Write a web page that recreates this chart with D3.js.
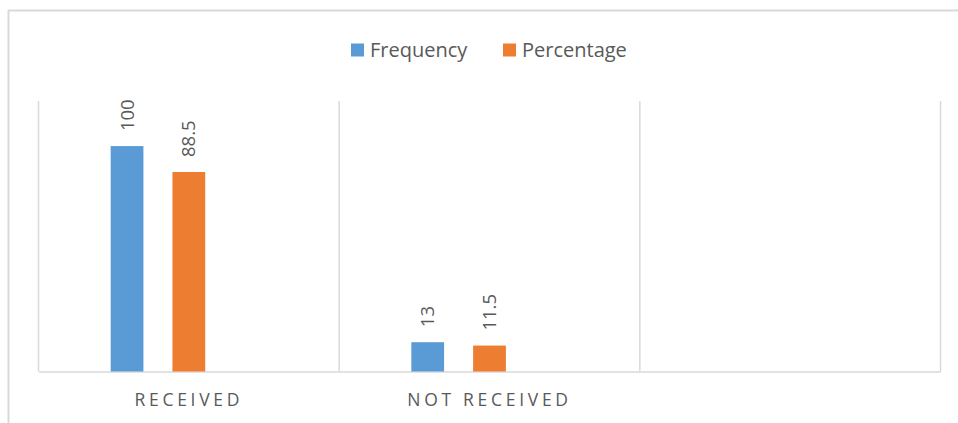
<!DOCTYPE html>
<html>
<head>
<meta charset="utf-8">
<script src="https://cdn.jsdelivr.net/npm/d3@7"></script>
<style>
  body { margin: 0; background: #fff; }
  text { font-family: "Open Sans", sans-serif; fill: #595959; }
</style>
</head>
<body>
<div id="mainDiv"></div>
<script>
var categories = ["RECEIVED", "NOT RECEIVED", ""];
var seriesNames = ["Frequency", "Percentage"];
var frequency = [100, 13, null];
var percentage = [88.5, 11.5, null];
// Excel kept a third (empty) series slot in each cluster
var slots = ["Frequency", "Percentage", "empty"];
var colors = { Frequency: "#5b9bd5", Percentage: "#ed7d31" };

var width = 958, height = 423;
var grid = "#d9d9d9";

var svg = d3.select("#mainDiv").append("svg")
    .attr("width", width).attr("height", height);

// chart frame (cropped: only top and left edges show)
svg.append("line").attr("x1", 8).attr("x2", width).attr("y1", 10.5).attr("y2", 10.5)
    .attr("stroke", grid).attr("stroke-width", 2);
svg.append("line").attr("x1", 8.5).attr("x2", 8.5).attr("y1", 10).attr("y2", height)
    .attr("stroke", grid).attr("stroke-width", 2);

var x0 = d3.scaleBand().domain(categories).range([38.5, 940.5]);
var x1 = d3.scaleBand().domain(slots)
    .range([x0.bandwidth() * 0.24, x0.bandwidth() * 0.76])
    .paddingInner(0.47);
var y = d3.scaleLinear().domain([0, 120]).range([371.5, 101]);

// vertical category separators
var bounds = categories.map(function(c) { return x0(c); }).concat([x0.range()[1]]);
svg.selectAll(".sep").data(bounds).enter().append("line")
    .attr("x1", function(d) { return d; }).attr("x2", function(d) { return d; })
    .attr("y1", y.range()[1]).attr("y2", y(0))
    .attr("stroke", grid).attr("stroke-width", 1.5);

// category axis
var xAxis = svg.append("g").attr("transform", "translate(0," + y(0) + ")")
    .call(d3.axisBottom(x0).tickSize(0).tickPadding(22));
xAxis.select(".domain").attr("stroke", grid).attr("stroke-width", 1.5);
xAxis.selectAll("text")
    .style("font-family", "'Open Sans', sans-serif")
    .style("font-size", "17.5px")
    .style("letter-spacing", "3.7px")
    .attr("fill", "#595959");

var series = [
    { name: "Frequency", values: frequency },
    { name: "Percentage", values: percentage }
];

series.forEach(function(s) {
    categories.forEach(function(c, i) {
        var v = s.values[i];
        if (v == null) return;
        var bx = x0(c) + x1(s.name);
        svg.append("rect")
            .attr("x", bx)
            .attr("y", y(v))
            .attr("width", x1.bandwidth())
            .attr("height", y(0) - y(v))
            .attr("fill", colors[s.name]);
        svg.append("text")
            .attr("transform", "translate(" + (bx + x1.bandwidth() / 2) + "," + (y(v) - 15) + ") rotate(-90)")
            .attr("dy", "0.35em")
            .style("font-size", "18.5px")
            .text(v);
    });
});

// legend
var legend = svg.append("g");
var lx = [351, 503];
seriesNames.forEach(function(name, i) {
    legend.append("rect")
        .attr("x", lx[i]).attr("y", 43.5)
        .attr("width", 13).attr("height", 13)
        .attr("fill", colors[name]);
    legend.append("text")
        .attr("x", lx[i] + 19).attr("y", 57)
        .style("font-size", "20px")
        .text(name);
});
</script>
</body>
</html>
